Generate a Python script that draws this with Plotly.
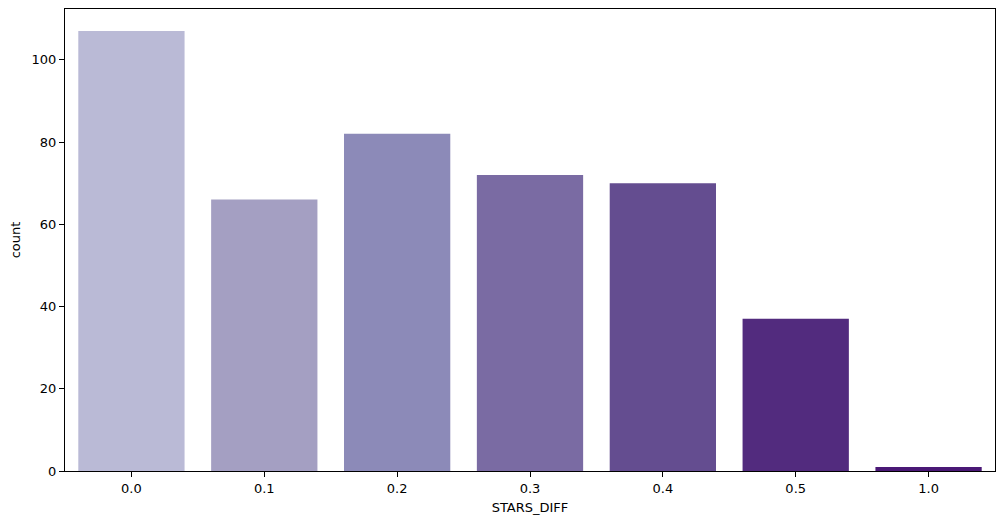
import plotly.graph_objects as go

categories = ["0.0", "0.1", "0.2", "0.3", "0.4", "0.5", "1.0"]
counts = [107, 66, 82, 72, 70, 37, 1]
colors = ["#BABAD6", "#A49FC2", "#8C8AB8", "#7A6BA3", "#644D90", "#522B7E", "#4A1876"]
y_ticks = [0, 20, 40, 60, 80, 100]

fig = go.Figure(go.Bar(
    x=categories, y=counts, marker=dict(color=colors, line=dict(width=0)),
    width=0.8,
))

font = dict(family="DejaVu Sans", size=13, color="black")
# page body has an 8px default margin; compensate so the axes land where the reference has them
fig.update_layout(
    width=998, height=512,
    margin=dict(l=57, r=11, t=1, b=49),
    plot_bgcolor="white", paper_bgcolor="white",
    showlegend=False, font=font, bargap=0.2,
)
fig.update_xaxes(
    type="category", range=[-0.5, 6.5],
    showline=True, linecolor="black", linewidth=1, mirror=True,
    ticks="outside", ticklen=5, tickcolor="black", showgrid=False,
    title=dict(text="STARS_DIFF", font=font, standoff=8),
)
fig.update_yaxes(
    range=[0, 112.35], tickvals=y_ticks,
    showline=True, linecolor="black", linewidth=1, mirror=True,
    ticks="outside", ticklen=5, tickcolor="black", showgrid=False, zeroline=False,
    title=dict(text="count", font=font, standoff=10),
)
fig.write_html("out.html")
